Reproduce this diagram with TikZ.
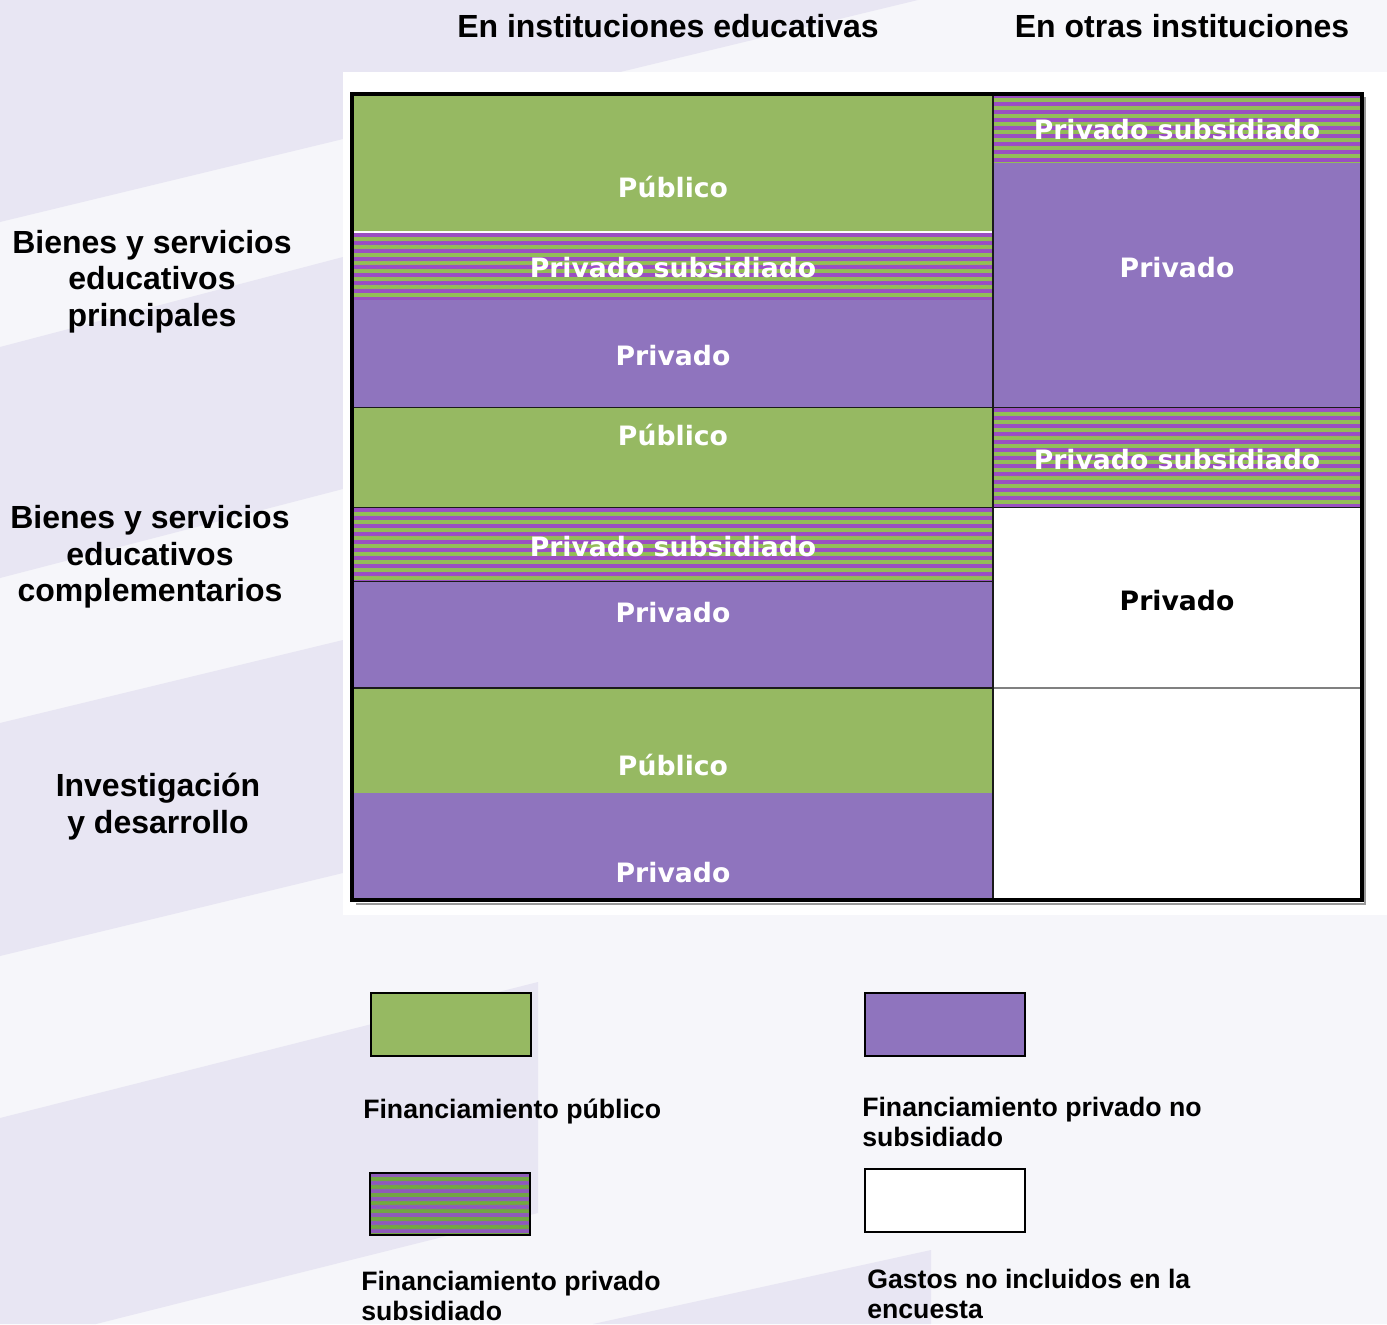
\documentclass[tikz,border=0pt]{standalone}
\usepackage{fontspec}
\setmainfont{Liberation Sans}
\newfontfamily\cellfont{DejaVu Sans}
\usetikzlibrary{calc}
\definecolor{bglav}{HTML}{E8E6F3}
\definecolor{bglight}{HTML}{F6F6FA}
\definecolor{cgreen}{HTML}{96B962}
\definecolor{cpurple}{HTML}{8F74BE}
\definecolor{sgreen}{HTML}{93BC58}
\definecolor{spurple}{HTML}{9A4EC2}
\definecolor{lgreen}{HTML}{72A544}
\definecolor{lpurple}{HTML}{8E5BB8}
\definecolor{cline}{HTML}{1A1A1A}
\begin{document}
\begin{tikzpicture}[x=0.75pt,y=-0.75pt,
  stripefill/.style 2 args={path picture={
    \fill[#1] (path picture bounding box.south west) rectangle (path picture bounding box.north east);
    \foreach \k in {0,...,14}{
      \fill[#2] ($(path picture bounding box.north west)+(0,\k*8)$) rectangle ($(path picture bounding box.north east)+(0,\k*8+4)$);
    }}},
  celltext/.style={font=\cellfont\bfseries\fontsize{20}{24}\selectfont, text=white, anchor=base, inner sep=0pt},
  head/.style={font=\bfseries\fontsize{24}{28}\selectfont, anchor=base, inner sep=0pt},
  legtext/.style={font=\bfseries\fontsize{20}{24}\selectfont, anchor=base west, inner sep=0pt},
  legbox/.style={draw=black, line width=1.5pt, minimum width=120pt, minimum height=47pt, inner sep=0pt},
  rowline/.style={draw=cline, line width=1.1pt}
]
\useasboundingbox (0,0) rectangle (1387,1324);
% background
\fill[bglight] (0,0) rectangle (1387,1324);
\fill[bglav] (0,0) -- (918,0) -- (0,222) -- cycle;
\fill[bglav] (0,347) -- (343,257) -- (343,489) -- (0,578) -- cycle;
\fill[bglav] (0,723) -- (343,640) -- (343,873) -- (0,956) -- cycle;
\fill[bglav] (0,1118) -- (538,982) -- (538,1213) -- (96,1324) -- (0,1324) -- cycle;
\fill[bglav] (593,1324) -- (931,1250) -- (931,1324) -- cycle;
\fill[white] (343,72) rectangle (1387,915);
% left column cells
\fill[cgreen] (352,94) rectangle (993,231);
\path[stripefill={sgreen}{spurple}] (352,233) rectangle (993,300);
\fill[cpurple] (352,300) rectangle (993,407.5);
\fill[cgreen] (352,407.5) rectangle (993,507.5);
\path[stripefill={sgreen}{spurple}] (352,507.5) rectangle (993,581.5);
\fill[cpurple] (352,581.5) rectangle (993,688);
\fill[cgreen] (352,688) rectangle (993,793);
\fill[cpurple] (352,793) rectangle (993,900);
% right column cells
\path[stripefill={sgreen}{spurple}] (993,94) rectangle (1362,163);
\fill[cpurple] (993,163) rectangle (1362,407.5);
\path[stripefill={sgreen}{spurple}] (993,407.5) rectangle (1362,507.5);
% lines
\draw[white, line width=1.5pt] (352,232) -- (993,232);
\draw[rowline] (352,407.5) -- (1362,407.5);
\draw[rowline] (352,507.5) -- (1362,507.5);
\draw[rowline] (352,581.5) -- (993,581.5);
\draw[rowline] (352,688) -- (993,688);
\draw[rowline, draw=gray] (993,688) -- (1362,688);
\draw[rowline] (993,94) -- (993,900);
% border with shadow
\draw[line width=1.5pt, black!40] (356,903.5) -- (1365,903.5) -- (1365,97);
\draw[line width=3pt, black] (352,94) rectangle (1362,900);
% headings
\node[head] (h1) at (668,37) {En instituciones educativas};
\node[head] (h2) at (1182,37) {En otras instituciones};
% row labels
\node[head] (r1a) at (152,253) {Bienes y servicios};
\node[head] (r1b) at (152,289.5) {educativos};
\node[head] (r1c) at (152,326) {principales};
\node[head] (r2a) at (150,528) {Bienes y servicios};
\node[head] (r2b) at (150,565) {educativos};
\node[head] (r2c) at (150,601) {complementarios};
\node[head] (r3a) at (158,796) {Investigación};
\node[head] (r3b) at (158,833) {y desarrollo};
% cell labels
\node[celltext] (c1) at (673,197) {Público};
\node[celltext] (c2) at (673,277) {Privado subsidiado};
\node[celltext] (c3) at (673,365) {Privado};
\node[celltext] (c4) at (673,445) {Público};
\node[celltext] (c5) at (673,556) {Privado subsidiado};
\node[celltext] (c6) at (673,622) {Privado};
\node[celltext] (c7) at (673,775) {Público};
\node[celltext] (c8) at (673,882) {Privado};
\node[celltext] (d1) at (1177,139) {Privado subsidiado};
\node[celltext] (d2) at (1177,277) {Privado};
\node[celltext] (d3) at (1177,469) {Privado subsidiado};
\node[celltext, text=black] (d4) at (1177,610) {Privado};
% legend
\node[legbox, fill=cgreen] (bpub) at (451,1024.5) {};
\node[legbox, fill=cpurple] (bpriv) at (944.5,1024.5) {};
\node[legbox, stripefill={lgreen}{lpurple}] (bsub) at (450,1204) {};
\node[legbox, fill=white] (bnone) at (945,1200.5) {};
\node[legtext] (t1) at (363,1118) {Financiamiento público};
\node[legtext] (t2a) at (862,1116) {Financiamiento privado no};
\node[legtext] (t2b) at (862,1146) {subsidiado};
\node[legtext] (t3a) at (361,1290) {Financiamiento privado};
\node[legtext] (t3b) at (361,1320) {subsidiado};
\node[legtext] (t4a) at (867,1288) {Gastos no incluidos en la};
\node[legtext] (t4b) at (867,1318) {encuesta};
\end{tikzpicture}
\end{document}
